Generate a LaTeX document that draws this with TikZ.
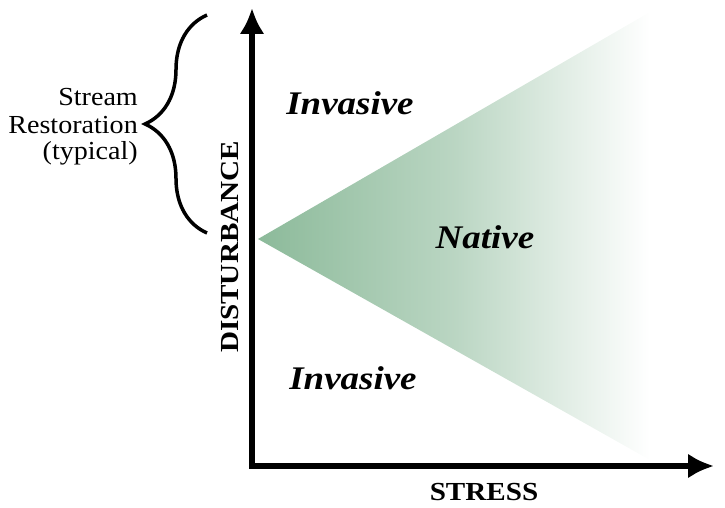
\documentclass[tikz,border=0pt]{standalone}
\usepackage{fontspec}
\setmainfont{Liberation Serif}
\newfontfamily\widefont[FakeStretch=1.12]{Liberation Serif}
\newfontfamily\bracefont[FakeStretch=1.08]{Liberation Serif}
\usetikzlibrary{arrows.meta,decorations.pathreplacing}
\definecolor{natgreen}{RGB}{140,186,154}
\tikzset{
  axis/.style={line width=6.5pt, line join=miter, {Latex[length=26pt,width=25pt]}-{Latex[length=26pt,width=25pt]}},
  zone/.style={font=\widefont\bfseries\itshape\fontsize{33}{36}\selectfont, inner sep=0pt},
  axlabel/.style={font=\widefont\bfseries\fontsize{26}{30}\selectfont, inner sep=0pt},
  bracelabel/.style={font=\bracefont\fontsize{26}{28}\selectfont, inner sep=0pt, anchor=east}
}
\begin{document}
\begin{tikzpicture}[x=1pt,y=-1pt]
\useasboundingbox (0,0) rectangle (725,508);
% shaded triangle
\shade[left color=natgreen, right color=white, middle color=natgreen!60!white, shading angle=90]
  (258,239) -- (650,12) -- (650,460) -- cycle;
% axes
\coordinate (top) at (252,8);
\coordinate (corner) at (252,466);
\coordinate (right) at (714,466);
\draw[axis] (top) -- (corner) -- (right);
% brace
\coordinate (bb) at (207,233);
\coordinate (bt) at (207,15);
\draw[line width=3.5pt, decorate, decoration={brace, amplitude=62pt, aspect=0.5}] (bb) -- (bt);
% labels
\node[bracelabel] (sr1) at (138,97) {Stream};
\node[bracelabel] (sr2) at (138,125) {Restoration};
\node[bracelabel] (sr3) at (138,153) {(typical)};
\node[zone] (inv1) at (350,103) {Invasive};
\node[zone] (nat) at (485,237) {Native};
\node[zone] (inv2) at (353,378) {Invasive};
\node[axlabel, rotate=90] (dist) at (230,247) {DISTURBANCE};
\node[axlabel] (stress) at (484,492) {STRESS};
\end{tikzpicture}
\end{document}
